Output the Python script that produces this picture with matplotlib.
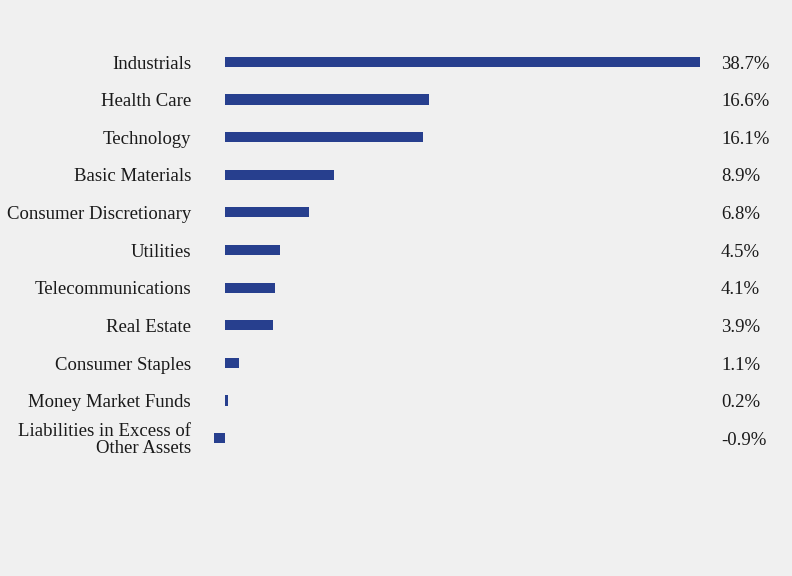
import matplotlib
matplotlib.use("Agg")
import matplotlib.pyplot as plt
import matplotlib.transforms as mtransforms

categories = ["Industrials", "Health Care", "Technology", "Basic Materials",
              "Consumer Discretionary", "Utilities", "Telecommunications",
              "Real Estate", "Consumer Staples", "Money Market Funds",
              "Liabilities in Excess of\nOther Assets"]
values = [38.7, 16.6, 16.1, 8.9, 6.8, 4.5, 4.1, 3.9, 1.1, 0.2, -0.9]
labels = ["38.7%", "16.6%", "16.1%", "8.9%", "6.8%", "4.5%", "4.1%",
          "3.9%", "1.1%", "0.2%", "-0.9%"]

BG = "#f0f0f0"
BAR = "#273f8e"
W, H = 792, 576

plt.rcParams["font.family"] = ["Liberation Serif", "DejaVu Serif"]

fig = plt.figure(figsize=(W / 100, H / 100), dpi=100, facecolor=BG)
# axes spans x from -0.9 (px 214) to 38.7 (px 700); rows from px 43 to 457
ax = fig.add_axes([214 / W, 1 - 457 / H, (700 - 214) / W, (457 - 43) / H])
ax.set_facecolor(BG)
ypos = list(range(len(categories)))
ax.barh(ypos, values, height=0.27, color=BAR)
ax.set_xlim(-0.9, 38.7)
ax.set_ylim(len(categories) - 0.5, -0.5)
ax.axis("off")

trans = mtransforms.blended_transform_factory(fig.transFigure, ax.transData)
for y, cat, lab in zip(ypos, categories, labels):
    ax.text(191 / W, y + 0.06, cat, transform=trans, ha="right", va="center",
            fontsize=13.5, color="#1a1a1a", linespacing=1.0)
    ax.text(721 / W, y + 0.06, lab, transform=trans, ha="left", va="center",
            fontsize=13.5, color="#1a1a1a")

fig.savefig("out.png", dpi=100, facecolor=BG)
